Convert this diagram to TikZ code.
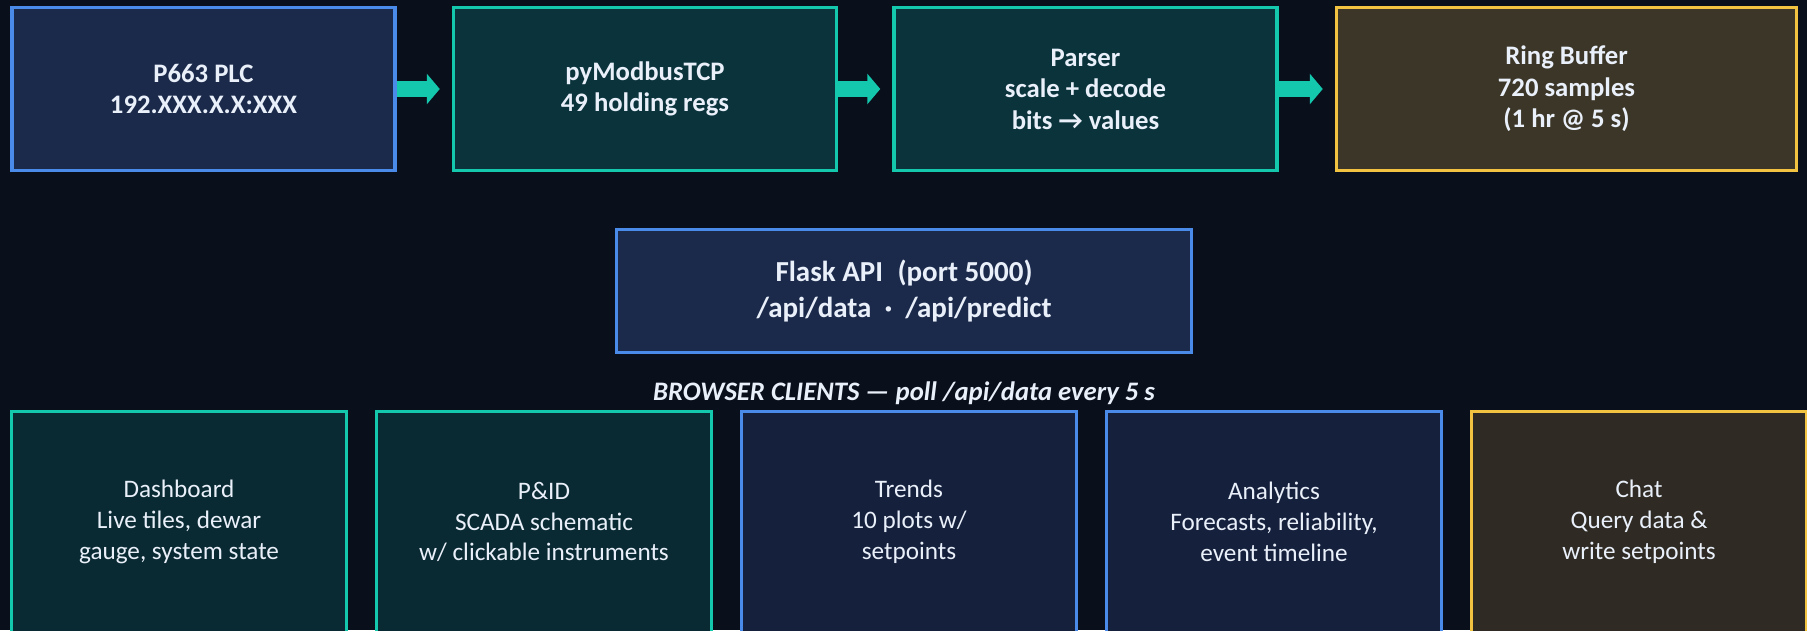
\documentclass[tikz,border=0pt]{standalone}
\usepackage{fontspec}
\setmainfont{Carlito}
\usetikzlibrary{arrows.meta}
\definecolor{bg}{HTML}{0A0F1C}
\definecolor{bluefill}{HTML}{1B2A4B}
\definecolor{bluedark}{HTML}{15203C}
\definecolor{blueline}{HTML}{4A8AE8}
\definecolor{tealfill}{HTML}{0A333C}
\definecolor{tealdark}{HTML}{0A2A33}
\definecolor{tealline}{HTML}{14C8AE}
\definecolor{goldfill}{HTML}{3C3628}
\definecolor{golddark}{HTML}{2F2B24}
\definecolor{goldline}{HTML}{F2C341}
\definecolor{txt}{HTML}{EAF0FA}

\begin{document}
\begin{tikzpicture}[x=1pt,y=-1pt,
    box/.style={draw,line width=3.5pt,text=txt,align=center,inner sep=0pt},
    stage/.style={box,minimum width=383pt,minimum height=163pt,font=\bfseries\fontsize{26.7}{31.5}\selectfont},
    client/.style={box,minimum width=335pt,minimum height=221pt,font=\fontsize{25.2}{30.8}\selectfont},
    bluebox/.style={fill=bluefill,draw=blueline},
    tealbox/.style={fill=tealfill,draw=tealline},
    goldbox/.style={fill=goldfill,draw=goldline},
    pipe/.style={draw=tealline,line width=16pt,-{Triangle[length=13pt,width=30pt]},shorten >=12pt}]
    \useasboundingbox (0,0) rectangle (1807,630);
    \fill[bg] (0,0) rectangle (1807,630);
    \clip (0,0) rectangle (1807,630);

    % acquisition chain
    \node[stage,bluebox] (plc) at (203.5,89) {P663 PLC\\192.XXX.X.X:XXX};
    \node[stage,tealbox] (modbus) at (645,89) {pyModbusTCP\\49 holding regs};
    \node[stage,tealbox] (parser) at (1085.5,89) {Parser\\scale + decode\\bits → values};
    \node[stage,goldbox,minimum width=460pt] (ring) at (1566.5,89) {Ring Buffer\\720 samples\\(1 hr @ 5 s)};

    \draw[pipe] (plc.east) -- (modbus.west);
    \draw[pipe] (modbus.east) -- (parser.west);
    \draw[pipe] (parser.east) -- (ring.west);

    % server
    \node[box,bluebox,minimum width=575pt,minimum height=123pt,font=\bfseries\fontsize{29}{36}\selectfont] (flask) at (904,291)
        {Flask API\hspace{0.5em}(port 5000)\\/api/data\hspace{0.45em}·\hspace{0.45em}/api/predict};
    \node[text=txt,font=\bfseries\itshape\fontsize{26.7}{30}\selectfont] (clients) at (904,393)
        {BROWSER CLIENTS — poll /api/data every 5 s};

    % browser pages
    \node[client,fill=tealdark,draw=tealline] (dash) at (179,522) {Dashboard\\Live tiles, dewar\\gauge, system state};
    \node[client,fill=tealdark,draw=tealline] (pid) at (544,522) {P\&ID\\SCADA schematic\\w/ clickable instruments};
    \node[client,fill=bluedark,draw=blueline] (trends) at (909,522) {Trends\\10 plots w/\\setpoints};
    \node[client,fill=bluedark,draw=blueline] (analytics) at (1274,522) {Analytics\\Forecasts, reliability,\\event timeline};
    \node[client,fill=golddark,draw=goldline] (chat) at (1639,522) {Chat\\Query data \&\\write setpoints};
\end{tikzpicture}
\end{document}
